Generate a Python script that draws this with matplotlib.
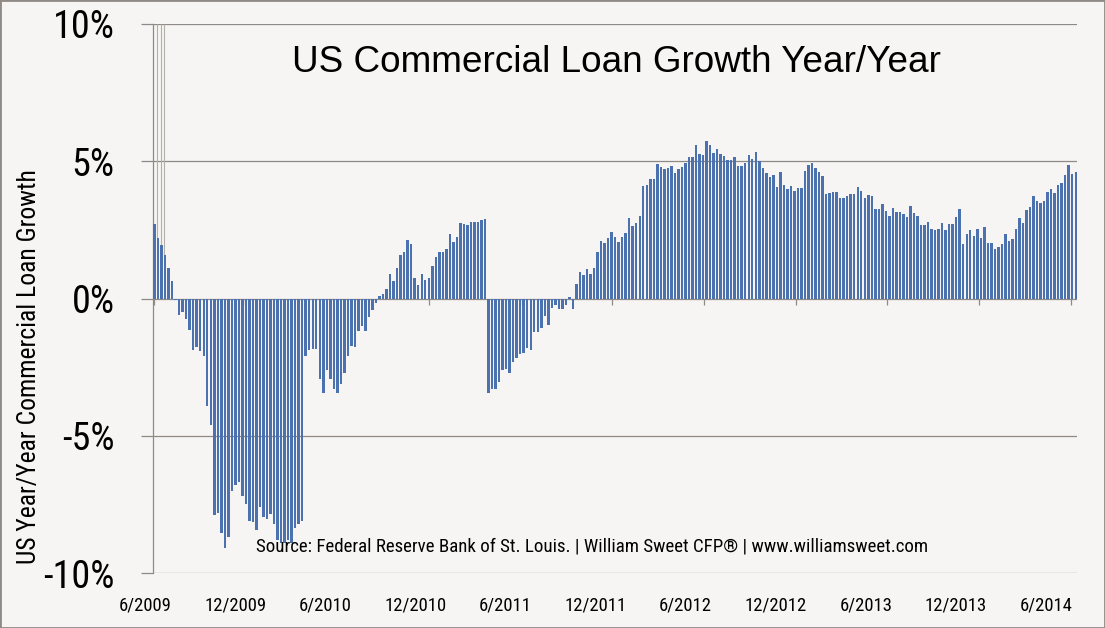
import matplotlib
matplotlib.use('Agg')
import matplotlib.pyplot as plt
import matplotlib.font_manager as fm
from matplotlib.patches import Rectangle
import pandas as pd

# ---- data (weekly year/year growth, %) ----
growth = [
    2.73, 2.19, 1.95, 1.59, 1.11, 0.64, -0.04, -0.6, -0.48, -0.75, -1.15, -1.87, -1.75, -1.93, -2.1,
    -3.9, -4.6, -7.9, -7.8, -8.55, -9.1, -8.7, -7.0, -6.8, -6.7, -7.2, -7.5, -8.1, -8.15, -8.45,
    -7.6, -7.95, -8.05, -7.85, -8.2, -8.8, -8.9, -8.9, -8.8, -8.9, -8.35, -8.2, -8.1,
    -2.1, -1.87, -1.84, -1.85, -2.95, -3.43, -2.6, -2.95, -3.3, -3.45, -3.1, -2.7, -2.1, -1.72,
    -1.75, -1.2, -1.02, -1.17, -0.69, -0.42, -0.16, 0.08, 0.16, 0.36, 0.88, 0.64, 1.12, 1.57,
    1.69, 2.13, 2.0,
    0.73, 0.49, 0.91, 0.67, 0.73, 1.18, 1.52, 1.68, 1.68, 1.79, 2.34, 2.05, 2.23, 2.74, 2.72,
    2.66, 2.77, 2.77, 2.79, 2.87, 2.91,
    -3.45, -3.3, -3.29, -3.06, -2.6, -2.57, -2.72, -2.3, -2.16, -2.03, -2.0, -1.8, -1.88, -1.23,
    -1.22, -1.09, -0.63, -0.98, -0.34, -0.24, -0.4, -0.37, -0.22, 0.06, -0.37, 0.52, 0.95, 0.85,
    1.09, 0.88, 1.11, 1.68, 2.1, 2.01, 2.22, 2.41, 2.23, 2.05, 2.23, 2.38, 2.93, 2.65, 2.74, 3.01,
    4.11, 4.15, 4.35, 4.35, 4.91,
    4.78, 4.71, 4.74, 4.81, 4.56, 4.72, 4.78, 4.93, 5.15, 5.15, 5.58, 5.27, 5.23, 5.75, 5.6, 5.29,
    5.44, 5.26, 5.2, 5.05, 5.05, 5.17, 4.84, 4.84, 4.93, 5.23, 5.07, 5.33,
    5.02, 4.74, 4.56, 4.44, 4.5, 4.05, 4.62, 4.14, 3.98, 4.1, 3.92, 4.04, 4.04, 4.66, 4.87, 4.93,
    4.74, 4.62, 4.48, 3.8, 3.86, 3.89, 3.89, 3.65, 3.65, 3.73, 3.8, 3.8, 4.08, 3.93, 3.65,
    3.77, 3.73, 3.25, 3.25, 3.44, 3.19, 3.0, 3.28, 3.14, 3.14, 3.07, 2.96, 3.37, 3.1, 3.0, 2.66,
    2.66, 2.77, 2.55, 2.49, 2.53, 2.74, 2.49, 2.7, 2.7, 2.96, 3.25, 2.0, 2.35, 2.49,
    2.27, 2.52, 2.19, 2.59, 2.03, 2.03, 1.82, 1.86, 1.98, 2.34, 2.09, 2.15, 2.55, 2.92, 2.74, 3.22,
    3.32, 3.75, 3.56, 3.47, 3.55, 3.87, 3.98, 3.83, 4.14, 4.2, 4.5, 4.87, 4.53, 4.62,
]
start_date = '2009-06-03'
tick_dates = ['2009-06-01', '2009-12-01', '2010-06-01', '2010-12-01', '2011-06-01', '2011-12-01',
              '2012-06-01', '2012-12-01', '2013-06-01', '2013-12-01', '2014-06-01']
tick_labels = ['6/2009', '12/2009', '6/2010', '12/2010', '6/2011', '12/2011',
               '6/2012', '12/2012', '6/2013', '12/2013', '6/2014']
y_ticks = [-10, -5, 0, 5, 10]
y_tick_labels = ['-10%', '-5%', '0%', '5%', '10%']
title = 'US Commercial Loan Growth Year/Year'
y_title = 'US Year/Year Commercial Loan Growth'
source = 'Source: Federal Reserve Bank of St. Louis. | William Sweet CFP® | www.williamsweet.com'

# ---- style ----
bg = '#f6f5f3'
grid_c = '#8f8a85'
bar_c = '#4b72ae'


def find_narrow():
    prefs = ['Liberation Sans Narrow', 'Roboto Condensed', 'Open Sans Condensed',
             'Noto Sans Condensed', 'DejaVu Sans Condensed']
    cands = []
    for f in fm.fontManager.ttflist:
        if f.style != 'normal' or f.weight not in (400, 'normal', 'regular'):
            continue
        nm = f.name
        fn = f.fname.lower()
        if 'Narrow' in nm or 'Condensed' in nm or 'narrow' in fn or 'condensed' in fn \
                or f.stretch in ('condensed', 'semi-condensed'):
            if 'bold' in fn or 'italic' in fn or 'oblique' in fn or 'light' in fn \
                    or 'medium' in fn or 'thin' in fn or 'black' in fn or 'semibold' in fn:
                continue
            cands.append(f)
    if not cands:
        return None
    def rank(f):
        for i, p in enumerate(prefs):
            if f.name == p or p.replace(' ', '').lower() in f.fname.lower().replace('-', '').replace('_', ''):
                return i
        return len(prefs)
    cands.sort(key=rank)
    return fm.FontProperties(fname=cands[0].fname)


narrow_fp = find_narrow()
regular_fp = fm.FontProperties(family=['Liberation Sans', 'DejaVu Sans'])
label_fp = narrow_fp if narrow_fp is not None else regular_fp

dates = pd.date_range(start_date, periods=len(growth), freq='7D')
ticks = pd.to_datetime(tick_dates)

W, H = 1105, 628
fig = plt.figure(figsize=(W / 100, H / 100), dpi=100, facecolor=bg)
ax_left, ax_right, ax_top, ax_bottom = 153, 1077, 24, 573
ax = fig.add_axes([ax_left / W, 1 - ax_bottom / H, (ax_right - ax_left) / W, (ax_bottom - ax_top) / H])
ax.set_facecolor(bg)

ax.bar(dates, growth, width=4.9, color=bar_c, zorder=3, linewidth=0)

# thin grey lines above the first bars
ax.vlines(dates[1:4] - pd.Timedelta(days=1.5), growth[1:4], 10, color='#b3aea9', lw=0.8, zorder=2)

ax.set_ylim(-10, 10)
ax.set_xlim(dates[0] - pd.Timedelta(days=3), dates[-1] + pd.Timedelta(days=2.5))

for y in y_ticks:
    ax.axhline(y, color=grid_c, lw=0.9, zorder=1)
ax.vlines(ticks, -0.25, 0, color=grid_c, lw=0.9, zorder=2)

for s in ['top', 'right', 'bottom']:
    ax.spines[s].set_visible(False)
ax.spines['left'].set_color(grid_c)
ax.spines['left'].set_linewidth(0.9)

ax.set_yticks(y_ticks)
ax.set_yticklabels(y_tick_labels)
ax.tick_params(axis='y', length=8.6, width=0.9, color=grid_c, pad=19)
ax.set_xticks([])

renderer = fig.canvas.get_renderer()


def fit(t, target_px, vertical=False):
    t.set_fontsize(20)
    bb = t.get_window_extent(renderer=renderer)
    cur = bb.height if vertical else bb.width
    t.set_fontsize(20 * target_px / cur)


# y tick labels
for t in ax.get_yticklabels():
    t.set_fontproperties(label_fp)
ylabs = ax.get_yticklabels()
fit(ylabs[-1], 62)
for t in ylabs:
    t.set_fontsize(ylabs[-1].get_fontsize())

# x tick labels (placed as in the reference, slightly left of the tick marks)
first_label_px, label_step_px, label_y_px = 145, 90.1, 605
xlab_objs = []
for i, lab in enumerate(tick_labels):
    xf = (first_label_px + i * label_step_px - ax_left) / (ax_right - ax_left)
    yf = -(label_y_px - ax_bottom) / (ax_bottom - ax_top)
    xlab_objs.append(ax.text(xf, yf, lab, transform=ax.transAxes, ha='center', va='center',
                             fontproperties=label_fp.copy()))
fit(xlab_objs[1], 62)
for t in xlab_objs:
    t.set_fontsize(xlab_objs[1].get_fontsize())

tt = ax.text((616 - ax_left) / (ax_right - ax_left), (ax_bottom - 62) / (ax_bottom - ax_top), title,
             transform=ax.transAxes, ha='center', va='center', fontproperties=regular_fp.copy())
fit(tt, 648)

st = ax.text((592.5 - ax_left) / (ax_right - ax_left), (ax_bottom - 547) / (ax_bottom - ax_top), source,
             transform=ax.transAxes, ha='center', va='center', fontproperties=label_fp.copy())
fit(st, 669)

yt = fig.text(29 / W, 1 - 367 / H, y_title, rotation=90, ha='center', va='center',
              fontproperties=label_fp.copy())
fit(yt, 395, vertical=True)

fig.add_artist(Rectangle((0, 0), 1, 1, transform=fig.transFigure, fill=False,
                         edgecolor=grid_c, lw=2))

fig.savefig('out.png', dpi=100, facecolor=bg)
